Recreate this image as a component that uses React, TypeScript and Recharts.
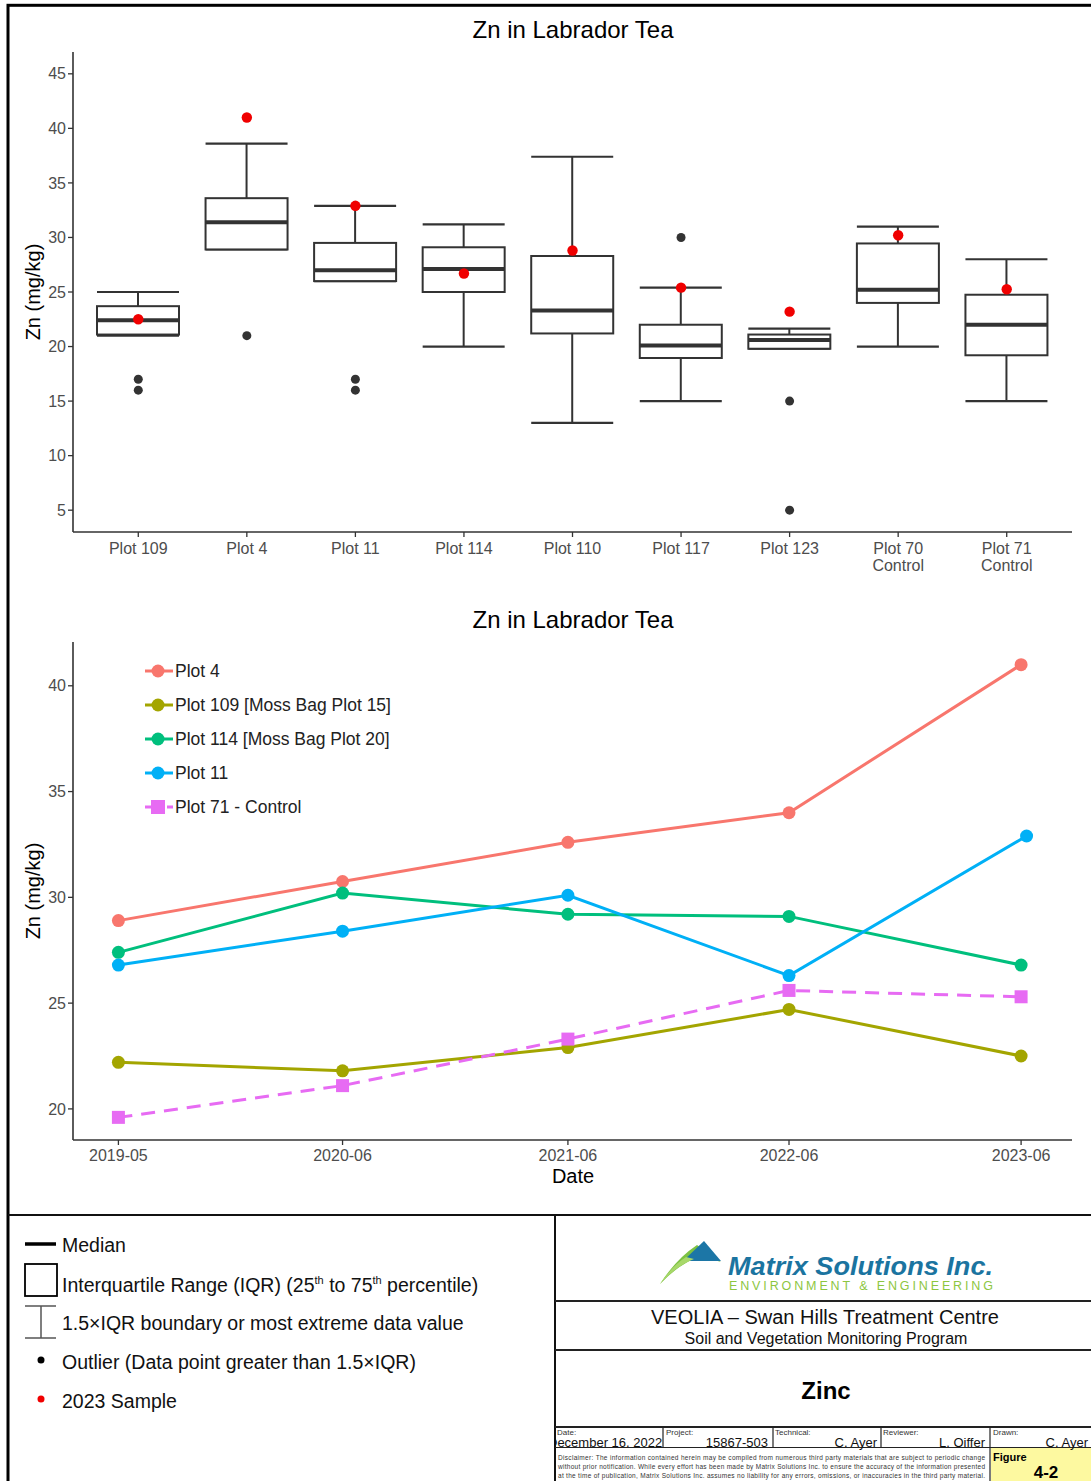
import React from "react";
import { ComposedChart, LineChart, Bar, Line, XAxis, YAxis, Legend } from "recharts";

// ---- box plot (top) ----
const plots = ["Plot 109", "Plot 4", "Plot 11", "Plot 114", "Plot 110", "Plot 117", "Plot 123", "Plot 70\nControl", "Plot 71\nControl"];
const whiskerLow = [21, 28.9, 26, 20, 13, 15, 19.8, 20, 15];
const q1 = [21.1, 28.9, 26, 25, 21.2, 18.95, 19.8, 24, 19.2];
const median = [22.4, 31.4, 27, 27.1, 23.3, 20.1, 20.6, 25.2, 22];
const q3 = [23.7, 33.6, 29.5, 29.1, 28.3, 22, 21.1, 29.45, 24.75];
const whiskerHigh = [25, 38.6, 32.9, 31.2, 37.4, 25.4, 21.65, 31, 28];
const outliers = [[16, 17], [21], [16, 17], [], [], [30], [15, 5], [], []];
const sample2023 = [22.5, 41, 32.9, 26.7, 28.8, 25.4, 23.2, 30.2, 25.25];
const boxTicks = [5, 10, 15, 20, 25, 30, 35, 40, 45];

// ---- time series (bottom) ----
const sampleDates = ["2019-05-31", "2020-06-01", "2021-06-05", "2022-06-02", "2023-06-17"];
const plot11Dates = ["2019-05-31", "2020-06-01", "2021-06-05", "2022-06-02", "2023-06-26"];
const plot4 = [28.9, 30.75, 32.6, 34.0, 41.0];
const plot109 = [22.2, 21.8, 22.9, 24.7, 22.5];
const plot114 = [27.4, 30.2, 29.2, 29.1, 26.8];
const plot11 = [26.8, 28.4, 30.1, 26.3, 32.9];
const plot71 = [19.6, 21.1, 23.3, 25.6, 25.3];
const lineTicks = [20, 25, 30, 35, 40];

const FONT = "'Liberation Sans', Arial, sans-serif";
const AXIS = "#333";
const TICK_TEXT = "#4d4d4d";

const toTime = (d: string) => {
  const [y, m, day] = d.split("-").map(Number);
  return Date.UTC(y, m - 1, day);
};
const fmtMonth = (t: number) => {
  const d = new Date(t);
  return `${d.getUTCFullYear()}-${String(d.getUTCMonth() + 1).padStart(2, "0")}`;
};

const boxData = plots.map((plot, i) => ({
  plot,
  lo: whiskerLow[i],
  q1: q1[i],
  med: median[i],
  q3: q3[i],
  hi: whiskerHigh[i],
  out1: outliers[i][0] ?? null,
  out2: outliers[i][1] ?? null,
  sample: sample2023[i],
}));

const lineSeries = [
  { name: "Plot 4", color: "#F8766D", dates: sampleDates, values: plot4, square: false },
  { name: "Plot 109 [Moss Bag Plot 15]", color: "#A3A500", dates: sampleDates, values: plot109, square: false },
  { name: "Plot 114 [Moss Bag Plot 20]", color: "#00BF7D", dates: sampleDates, values: plot114, square: false },
  { name: "Plot 11", color: "#00B0F6", dates: plot11Dates, values: plot11, square: false },
  { name: "Plot 71 - Control", color: "#E76BF3", dates: sampleDates, values: plot71, square: true },
].map((s) => ({ ...s, data: s.dates.map((d, i) => ({ t: toTime(d), v: s.values[i] })) }));

// ggplot-style 5% expansion
const allTimes = lineSeries.flatMap((s) => s.data.map((p) => p.t));
const tMin = Math.min(...allTimes);
const tMax = Math.max(...allTimes);
const tPad = (tMax - tMin) * 0.05;
const allVals = lineSeries.flatMap((s) => s.values);
const vMin = Math.min(...allVals);
const vMax = Math.max(...allVals);
const vPad = (vMax - vMin) * 0.05;
const dateTicks = sampleDates.map(toTime);

function BoxShape(props: any) {
  const { x, y, width, height, payload } = props;
  const top = Math.min(y, y + height);
  const h = Math.abs(height);
  const { lo, hi } = payload;
  const k = hi > lo ? h / (hi - lo) : 0;
  const py = (v: number) => top + (hi - v) * k;
  const cx = x + width / 2;
  return (
    <g>
      <line x1={cx} x2={cx} y1={py(hi)} y2={py(payload.q3)} stroke={AXIS} strokeWidth={2} />
      <line x1={cx} x2={cx} y1={py(payload.q1)} y2={py(lo)} stroke={AXIS} strokeWidth={2} />
      <line x1={x} x2={x + width} y1={py(hi)} y2={py(hi)} stroke={AXIS} strokeWidth={2.2} />
      <line x1={x} x2={x + width} y1={py(lo)} y2={py(lo)} stroke={AXIS} strokeWidth={2.2} />
      <rect x={x} y={py(payload.q3)} width={width} height={py(payload.q1) - py(payload.q3)} fill="#fff" stroke={AXIS} strokeWidth={2} />
      <line x1={x} x2={x + width} y1={py(payload.med)} y2={py(payload.med)} stroke={AXIS} strokeWidth={4} />
    </g>
  );
}

function PlotTick(props: any) {
  const { x, y, payload } = props;
  const parts = String(payload.value).split("\n");
  return (
    <text x={x} y={y} textAnchor="middle" fill={TICK_TEXT} fontSize={16}>
      {parts.map((p, i) => (
        <tspan key={i} x={x} dy={i === 0 ? "0.71em" : 17}>
          {p}
        </tspan>
      ))}
    </text>
  );
}

function SquareDot(props: any) {
  const { cx, cy, index } = props;
  if (cx == null || cy == null) return null;
  return <rect key={`sq-${index}`} x={cx - 6.5} y={cy - 6.5} width={13} height={13} fill="#E76BF3" />;
}

function LineLegend() {
  return (
    <div style={{ display: "flex", flexDirection: "column", fontFamily: FONT }}>
      {lineSeries.map((s) => (
        <div key={s.name} style={{ height: 34, display: "flex", alignItems: "center" }}>
          <svg width={30} height={20}>
            <line x1={1} x2={29} y1={10} y2={10} stroke={s.color} strokeWidth={3} strokeDasharray={s.square ? "7 4" : undefined} />
            {s.square ? <rect x={7} y={3} width={14} height={14} fill={s.color} /> : <circle cx={14} cy={10} r={6.5} fill={s.color} />}
          </svg>
          <span style={{ fontSize: 17.5, color: "#222", marginLeft: 1 }}>{s.name}</span>
        </div>
      ))}
    </div>
  );
}

export default function App() {
  return (
    <div style={{ position: "absolute", left: 0, top: 0, width: 1091, height: 1481, overflow: "hidden", background: "#fff", fontFamily: FONT }}>
      <div style={{ position: "absolute", left: 0, top: 0 }}>
        <ComposedChart width={1091} height={590} data={boxData} margin={{ top: 52, right: 19, bottom: 8, left: 0 }}>
          <XAxis
            dataKey="plot"
            padding={{ left: 11, right: 11 }}
            height={50}
            interval={0}
            tick={<PlotTick />}
            tickSize={5}
            tickMargin={6}
            axisLine={{ stroke: AXIS, strokeWidth: 1.6 }}
            tickLine={{ stroke: AXIS, strokeWidth: 1.3 }}
          />
          <YAxis
            width={73}
            type="number"
            domain={[3, 47]}
            ticks={boxTicks}
            allowDataOverflow
            interval={0}
            tick={{ fill: TICK_TEXT, fontSize: 16 }}
            tickSize={5}
            axisLine={{ stroke: AXIS, strokeWidth: 1.6 }}
            tickLine={{ stroke: AXIS, strokeWidth: 1.3 }}
          />
          <Bar dataKey={(d: any) => [d.lo, d.hi]} barSize={82} shape={<BoxShape />} isAnimationActive={false} />
          <Line dataKey="out1" stroke="none" dot={{ r: 4.5, fill: "#333", stroke: "none" }} activeDot={false} legendType="none" isAnimationActive={false} />
          <Line dataKey="out2" stroke="none" dot={{ r: 4.5, fill: "#333", stroke: "none" }} activeDot={false} legendType="none" isAnimationActive={false} />
          <Line dataKey="sample" stroke="none" dot={{ r: 5.2, fill: "#f00000", stroke: "none" }} activeDot={false} legendType="none" isAnimationActive={false} />
        </ComposedChart>
      </div>

      <div style={{ position: "absolute", left: 0, top: 600 }}>
        <LineChart width={1091} height={600} margin={{ top: 42, right: 19, bottom: 10, left: 0 }}>
          <XAxis
            dataKey="t"
            type="number"
            domain={[tMin - tPad, tMax + tPad]}
            ticks={dateTicks}
            interval={0}
            tickFormatter={fmtMonth}
            height={50}
            tick={{ fill: TICK_TEXT, fontSize: 16 }}
            tickSize={5}
            tickMargin={5}
            axisLine={{ stroke: AXIS, strokeWidth: 1.6 }}
            tickLine={{ stroke: AXIS, strokeWidth: 1.3 }}
            allowDataOverflow
          />
          <YAxis
            width={73}
            type="number"
            domain={[vMin - vPad, vMax + vPad]}
            ticks={lineTicks}
            allowDataOverflow
            interval={0}
            tick={{ fill: TICK_TEXT, fontSize: 16 }}
            tickSize={5}
            axisLine={{ stroke: AXIS, strokeWidth: 1.6 }}
            tickLine={{ stroke: AXIS, strokeWidth: 1.3 }}
          />
          <Legend
            layout="horizontal"
            verticalAlign="middle"
            align="center"
            content={() => <LineLegend />}
            wrapperStyle={{ left: 144, top: 54, width: "auto", height: "auto" }}
          />
          {lineSeries.map((s) => (
            <Line
              key={s.name}
              data={s.data}
              dataKey="v"
              name={s.name}
              stroke={s.color}
              strokeWidth={3}
              strokeDasharray={s.square ? "14 9" : undefined}
              dot={s.square ? SquareDot : { r: 6.5, fill: s.color, stroke: "none" }}
              activeDot={false}
              isAnimationActive={false}
            />
          ))}
        </LineChart>
      </div>

      <svg width={1091} height={1481} style={{ position: "absolute", left: 0, top: 0, pointerEvents: "none" }} fontFamily={FONT}>
        <defs>
          <clipPath id="dateCell">
            <rect x={556} y={1427} width={106} height={20} />
          </clipPath>
        </defs>
        {/* frame */}
        <rect x={8} y={5.3} width={1200} height={1600} fill="none" stroke="#000" strokeWidth={3} />
        <line x1={8} x2={1091} y1={1215} y2={1215} stroke="#111" strokeWidth={2} />
        <line x1={555} x2={555} y1={1215} y2={1481} stroke="#111" strokeWidth={2} />

        {/* chart titles and axis labels */}
        <text x={573} y={37.5} textAnchor="middle" fontSize={24} fill="#000">Zn in Labrador Tea</text>
        <text x={573} y={627.5} textAnchor="middle" fontSize={24} fill="#000">Zn in Labrador Tea</text>
        <text transform="translate(32.5,292) rotate(-90)" textAnchor="middle" dy="0.35em" fontSize={20} fill="#000">Zn (mg/kg)</text>
        <text transform="translate(32.5,891) rotate(-90)" textAnchor="middle" dy="0.35em" fontSize={20} fill="#000">Zn (mg/kg)</text>
        <text x={573} y={1183} textAnchor="middle" fontSize={20} fill="#000">Date</text>

        {/* box plot key */}
        <line x1={25} x2={56} y1={1244} y2={1244} stroke="#000" strokeWidth={3.5} />
        <rect x={25} y={1264} width={32} height={32} fill="none" stroke="#000" strokeWidth={1.8} />
        <line x1={25} x2={56} y1={1306} y2={1306} stroke="#555" strokeWidth={1.5} />
        <line x1={25} x2={56} y1={1338} y2={1338} stroke="#555" strokeWidth={1.5} />
        <line x1={41} x2={41} y1={1306} y2={1338} stroke="#555" strokeWidth={1.5} />
        <circle cx={41} cy={1360} r={3.5} fill="#000" />
        <circle cx={41} cy={1399} r={3.5} fill="#f00000" />
        <g fontSize={19.5} fill="#111">
          <text x={62} y={1252}>Median</text>
          <text x={62} y={1292}>
            Interquartile Range (IQR) (25<tspan fontSize={11} dy={-8}>th</tspan>
            <tspan dy={8}> to 75</tspan>
            <tspan fontSize={11} dy={-8}>th</tspan>
            <tspan dy={8}> percentile)</tspan>
          </text>
          <text x={62} y={1330}>1.5×IQR boundary or most extreme data value</text>
          <text x={62} y={1369}>Outlier (Data point greater than 1.5×IQR)</text>
          <text x={62} y={1408}>2023 Sample</text>
        </g>

        {/* title block */}
        <line x1={555} x2={1091} y1={1301} y2={1301} stroke="#222" strokeWidth={2} />
        <line x1={555} x2={1091} y1={1350} y2={1350} stroke="#222" strokeWidth={2} />
        <line x1={555} x2={1091} y1={1427} y2={1427} stroke="#222" strokeWidth={2} />
        <line x1={555} x2={1091} y1={1447.5} y2={1447.5} stroke="#222" strokeWidth={1.2} />
        {[663, 773, 881].map((x) => (
          <line key={x} x1={x} x2={x} y1={1427} y2={1447.5} stroke="#222" strokeWidth={1.2} />
        ))}
        <rect x={991} y={1448} width={100} height={33} fill="#fdf9a0" />
        <line x1={990} x2={990} y1={1427} y2={1481} stroke="#222" strokeWidth={1.2} />

        {/* logo */}
        <path d="M660 1284 Q676 1259 697 1245 L721 1262 L701 1256 Q680 1263 660 1284 Z" fill="#7dc242" />
        <path d="M683 1261 L704 1241 L721 1261 Z" fill="#1c76a6" />
        <path d="M660 1284 Q672 1266 686 1257 L694 1259 Q676 1266 660 1284 Z" fill="#a8d86a" />
        <text x={728} y={1275} fontSize={26} fontWeight="bold" fontStyle="italic" fill="#1b74a0" textLength={265} lengthAdjust="spacingAndGlyphs">Matrix Solutions Inc.</text>
        <text x={729} y={1290} fontSize={12.5} fill="#8dc63f" textLength={264} lengthAdjust="spacing">ENVIRONMENT &amp; ENGINEERING</text>

        <text x={825} y={1324} textAnchor="middle" fontSize={20} fill="#111">VEOLIA – Swan Hills Treatment Centre</text>
        <text x={826} y={1344} textAnchor="middle" fontSize={16} fill="#111">Soil and Vegetation Monitoring Program</text>
        <text x={826} y={1399} textAnchor="middle" fontSize={24} fontWeight="bold" fill="#000">Zinc</text>

        <g fontSize={8} fill="#333">
          <text x={557} y={1435}>Date:</text>
          <text x={666} y={1435}>Project:</text>
          <text x={775} y={1435}>Technical:</text>
          <text x={883} y={1435}>Reviewer:</text>
          <text x={993} y={1435}>Drawn:</text>
        </g>
        <g fontSize={13} fill="#111">
          <text x={548} y={1446.5} clipPath="url(#dateCell)">December 16, 2022</text>
          <text x={768} y={1446.5} textAnchor="end">15867-503</text>
          <text x={877} y={1446.5} textAnchor="end">C. Ayer</text>
          <text x={985} y={1446.5} textAnchor="end">L. Oiffer</text>
          <text x={1088} y={1446.5} textAnchor="end">C. Ayer</text>
        </g>
        <g fontSize={6.5} fill="#333">
          <text x={558} y={1460} textLength={427} lengthAdjust="spacing">Disclaimer: The information contained herein may be compiled from numerous third party materials that are subject to periodic change</text>
          <text x={558} y={1469} textLength={427} lengthAdjust="spacing">without prior notification. While every effort has been made by Matrix Solutions Inc. to ensure the accuracy of the information presented</text>
          <text x={558} y={1478} textLength={427} lengthAdjust="spacing">at the time of publication, Matrix Solutions Inc. assumes no liability for any errors, omissions, or inaccuracies in the third party material.</text>
        </g>
        <text x={993} y={1461} fontSize={11} fontWeight="bold" fill="#000">Figure</text>
        <text x={1046} y={1478} textAnchor="middle" fontSize={17} fontWeight="bold" fill="#000">4-2</text>
      </svg>
    </div>
  );
}
